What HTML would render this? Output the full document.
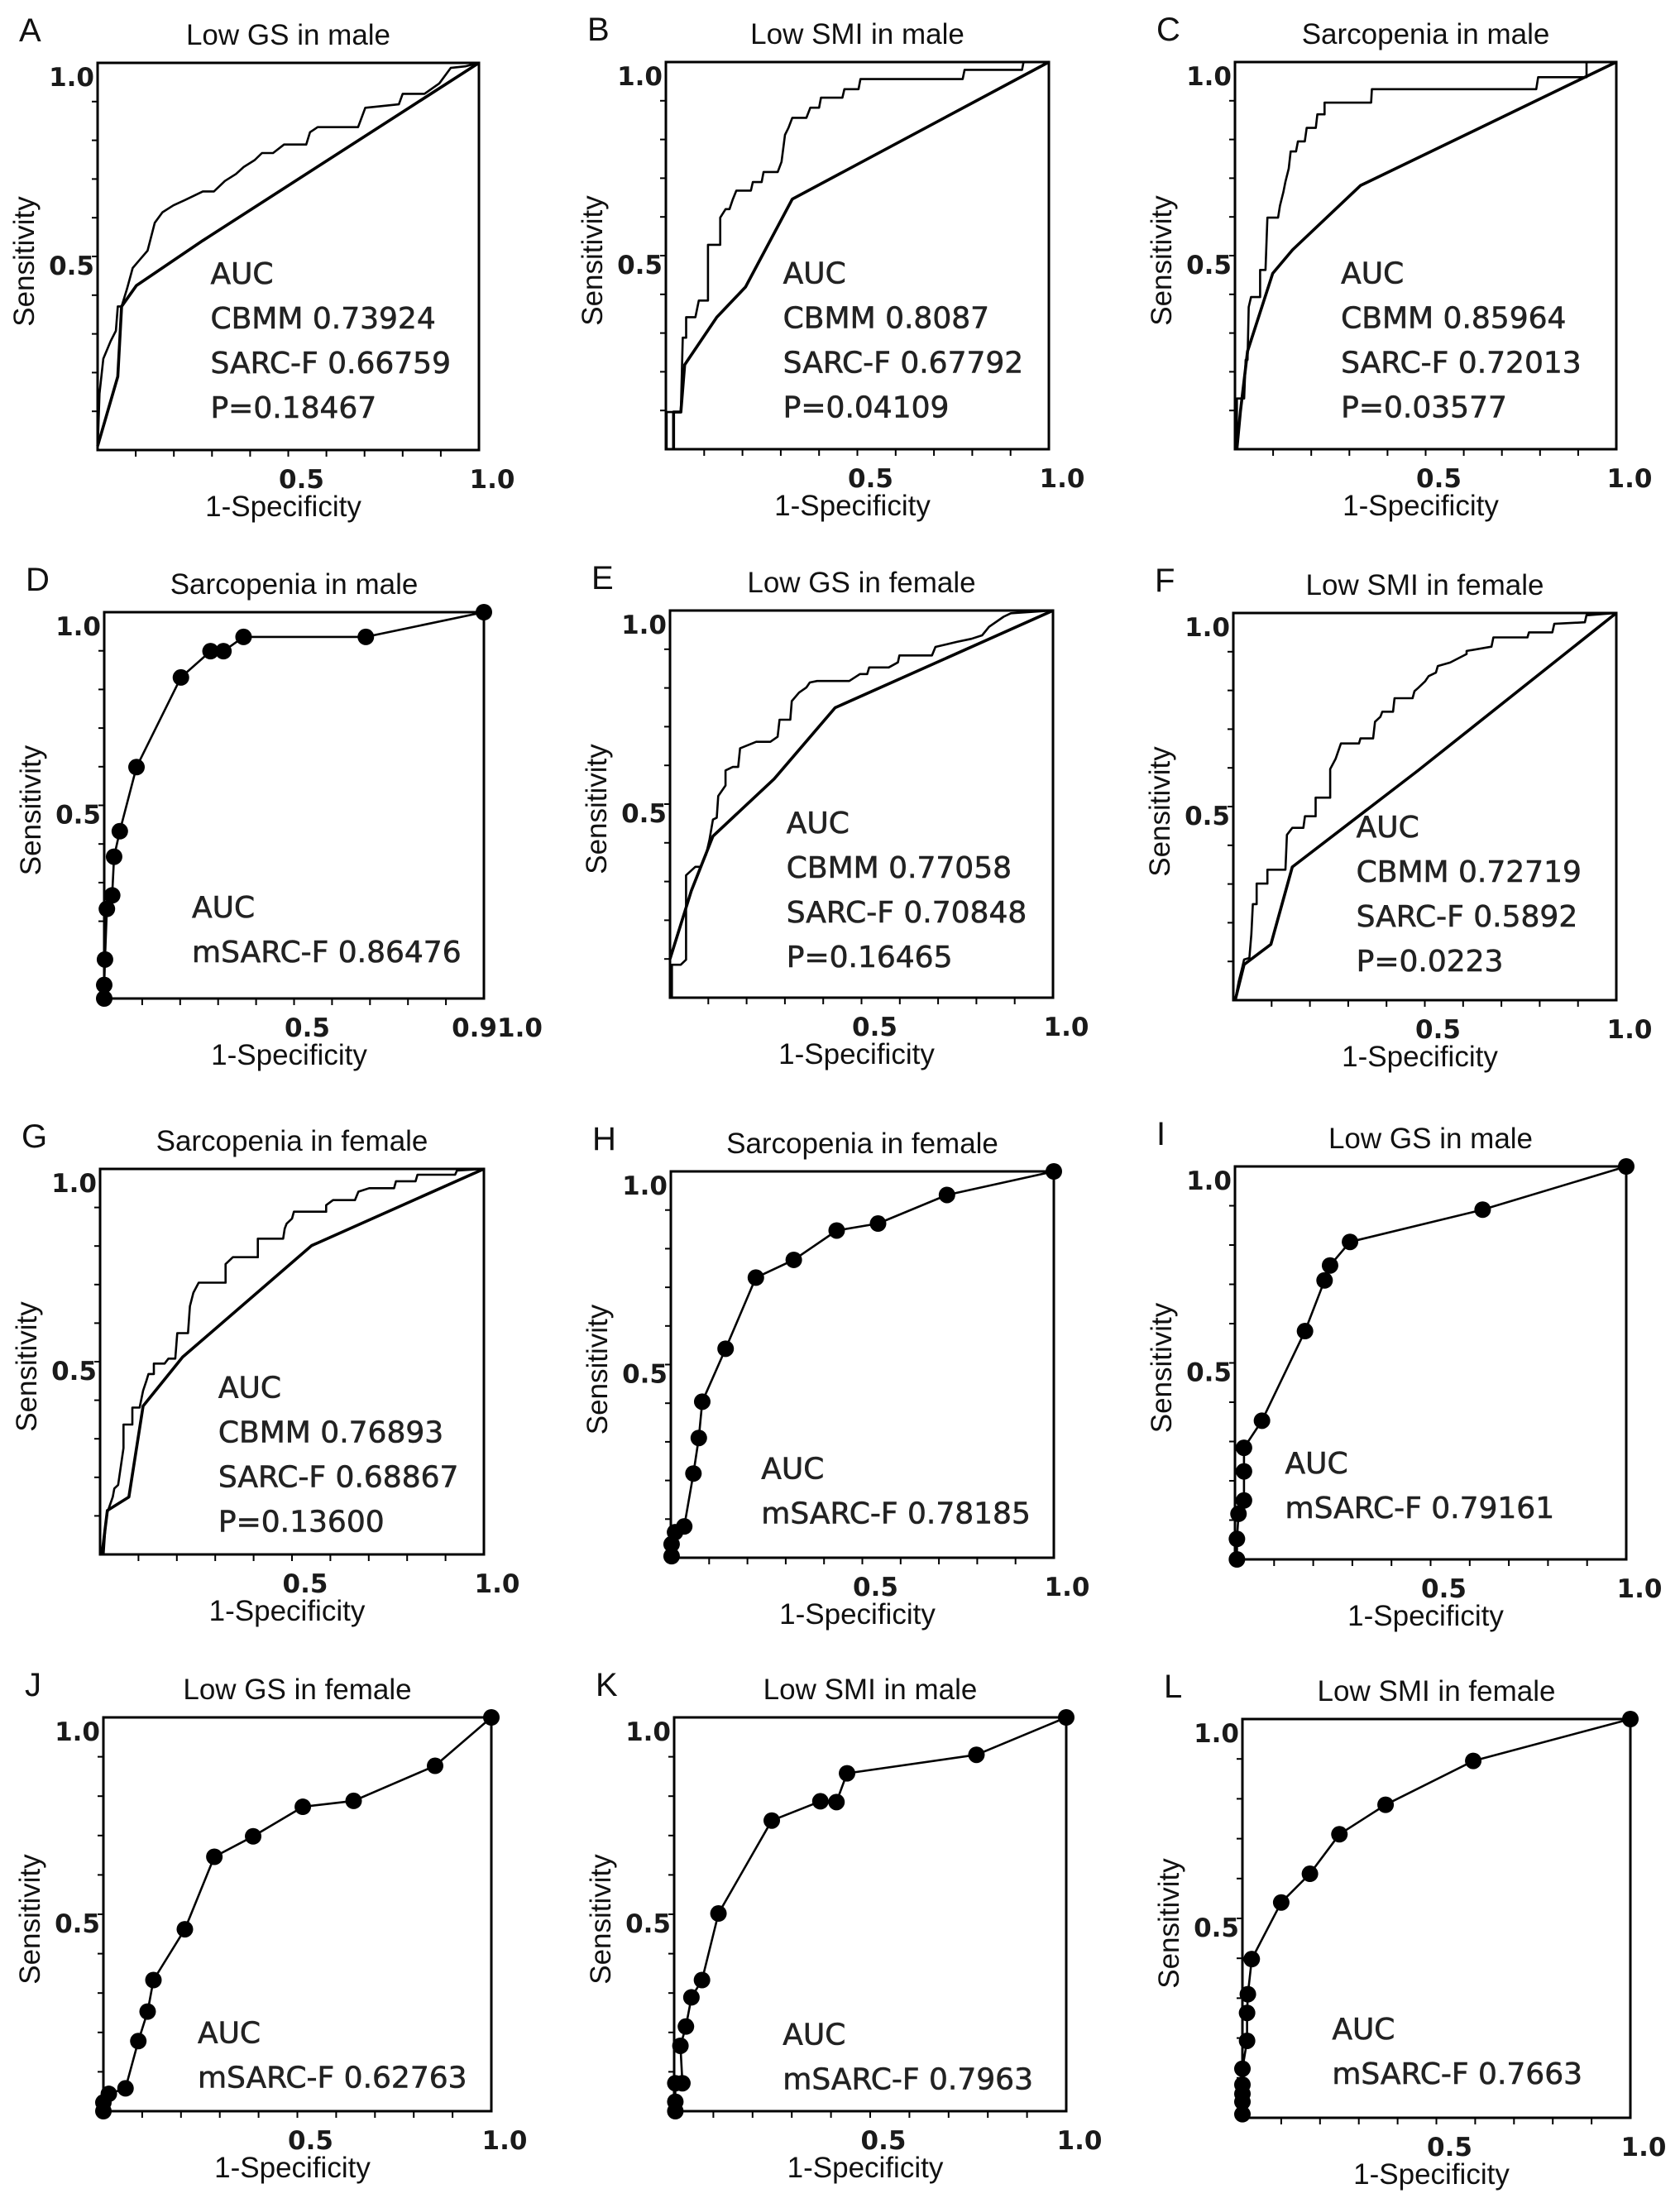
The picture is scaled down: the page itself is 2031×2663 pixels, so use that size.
<!DOCTYPE html>
<html><head><meta charset="utf-8"><style>
html,body{margin:0;padding:0;background:#fff}
svg{display:block}
text{font-family:"Liberation Sans",sans-serif}
.tick{font-family:"DejaVu Sans",sans-serif;font-size:31px;font-weight:bold;fill:#1a1a1a}
.auc{font-family:"DejaVu Sans","Liberation Sans",sans-serif;font-size:36px;fill:#222;stroke:#222;stroke-width:0.6}
</style></head><body>
<svg id="fig" width="2031" height="2663" viewBox="0 0 2031 2663" xmlns="http://www.w3.org/2000/svg"></svg>
<script>
// ---- data: ROC curves as [1-specificity] and [sensitivity] arrays ----
const aCbmmX=[0,0.005,0.015,0.034,0.048,0.053,0.063,0.077,0.092,0.111,0.131,0.150,0.170,0.199,0.228,0.276,0.305,0.334,0.363,0.383,0.412,0.431,0.460,0.489,0.547,0.557,0.577,0.683,0.702,0.790,0.800,0.857,0.896,0.926,0.964,1];
const aCbmmY=[0,0.146,0.236,0.281,0.308,0.371,0.371,0.416,0.470,0.492,0.515,0.587,0.614,0.632,0.645,0.668,0.668,0.695,0.713,0.731,0.749,0.767,0.767,0.789,0.789,0.821,0.834,0.834,0.884,0.893,0.920,0.920,0.947,0.987,0.991,1];
const aSarcX=[0,0.053,0.063,0.102,0.276,1];
const aSarcY=[0.01,0.19,0.371,0.425,0.541,1];
const bCbmmX=[0.002,0.002,0.039,0.044,0.053,0.053,0.077,0.086,0.11,0.11,0.142,0.142,0.156,0.166,0.175,0.184,0.222,0.227,0.25,0.255,0.292,0.302,0.311,0.32,0.33,0.367,0.377,0.4,0.405,0.461,0.466,0.503,0.508,0.775,0.78,0.93,0.934,1];
const bCbmmY=[0,0.096,0.096,0.288,0.288,0.341,0.341,0.384,0.384,0.528,0.528,0.598,0.620,0.620,0.646,0.668,0.668,0.690,0.690,0.716,0.716,0.742,0.812,0.830,0.856,0.856,0.882,0.882,0.908,0.908,0.930,0.930,0.956,0.956,0.980,0.980,1,1];
const bSarcX=[0.02,0.02,0.039,0.049,0.133,0.208,0.33,1];
const bSarcY=[0,0.096,0.096,0.218,0.341,0.419,0.646,1];
const cCbmmX=[0.005,0.005,0.024,0.028,0.033,0.036,0.042,0.066,0.066,0.08,0.085,0.113,0.118,0.127,0.132,0.141,0.146,0.16,0.165,0.183,0.188,0.212,0.216,0.235,0.235,0.357,0.359,0.79,0.795,0.922,0.922,1];
const cCbmmY=[0,0.131,0.131,0.231,0.231,0.367,0.393,0.393,0.463,0.463,0.598,0.598,0.629,0.664,0.69,0.725,0.769,0.769,0.795,0.795,0.830,0.830,0.865,0.865,0.895,0.895,0.930,0.930,0.961,0.961,1,1];
const cSarcX=[0.005,0.014,0.033,0.099,0.151,0.329,1];
const cSarcY=[0,0.096,0.253,0.454,0.515,0.681,1];
const dX=[0,0,0.002,0.007,0.021,0.026,0.041,0.085,0.202,0.28,0.314,0.367,0.689,1];
const dY=[0,0.035,0.101,0.232,0.267,0.367,0.433,0.599,0.831,0.899,0.899,0.936,0.936,1];
const eCbmmX=[0.005,0.005,0.028,0.042,0.042,0.066,0.08,0.094,0.103,0.112,0.122,0.126,0.145,0.145,0.164,0.178,0.183,0.225,0.262,0.281,0.286,0.314,0.318,0.337,0.356,0.365,0.384,0.468,0.496,0.515,0.52,0.571,0.595,0.599,0.684,0.693,0.749,0.787,0.815,0.833,0.871,0.89,1];
const eCbmmY=[0,0.085,0.085,0.098,0.316,0.338,0.338,0.369,0.408,0.46,0.465,0.521,0.548,0.587,0.596,0.596,0.644,0.661,0.661,0.674,0.718,0.718,0.766,0.788,0.801,0.814,0.818,0.818,0.836,0.836,0.853,0.853,0.866,0.884,0.884,0.906,0.919,0.927,0.936,0.958,0.984,0.993,1];
const eSarcX=[0,0.056,0.112,0.272,0.431,1];
const eSarcY=[0.1,0.277,0.417,0.565,0.749,1];
const fCbmmX=[0.005,0.014,0.023,0.028,0.042,0.047,0.051,0.061,0.061,0.089,0.089,0.136,0.14,0.154,0.183,0.187,0.215,0.215,0.253,0.253,0.267,0.281,0.328,0.332,0.365,0.37,0.384,0.389,0.417,0.421,0.468,0.473,0.482,0.501,0.51,0.529,0.534,0.566,0.609,0.609,0.674,0.679,0.768,0.772,0.833,0.838,0.918,0.922,1];
const fCbmmY=[0,0.048,0.083,0.105,0.109,0.17,0.248,0.248,0.301,0.301,0.337,0.337,0.427,0.445,0.445,0.475,0.475,0.523,0.523,0.597,0.623,0.663,0.663,0.676,0.676,0.719,0.732,0.745,0.745,0.78,0.78,0.798,0.806,0.824,0.837,0.846,0.863,0.872,0.894,0.902,0.913,0.937,0.937,0.95,0.95,0.972,0.976,0.994,1];
const fSarcX=[0.005,0.028,0.098,0.154,0.482,1];
const fSarcY=[0,0.092,0.144,0.344,0.593,1];
const gCbmmX=[0.009,0.014,0.019,0.033,0.037,0.047,0.061,0.061,0.084,0.084,0.103,0.112,0.121,0.126,0.14,0.14,0.168,0.178,0.196,0.201,0.229,0.234,0.243,0.257,0.327,0.327,0.346,0.411,0.411,0.477,0.481,0.486,0.5,0.505,0.589,0.589,0.607,0.664,0.673,0.701,0.766,0.771,0.822,0.827,0.925,0.93,1];
const gCbmmY=[0,0.074,0.109,0.149,0.171,0.18,0.276,0.337,0.337,0.381,0.381,0.425,0.451,0.468,0.468,0.495,0.495,0.508,0.508,0.574,0.574,0.644,0.679,0.705,0.705,0.753,0.771,0.771,0.819,0.819,0.845,0.858,0.871,0.889,0.889,0.906,0.919,0.919,0.941,0.95,0.95,0.968,0.968,0.985,0.985,0.996,1];
const gSarcX=[0.005,0.019,0.075,0.112,0.215,0.551,1];
const gSarcY=[0,0.114,0.149,0.385,0.512,0.801,1];
const hX=[0.002,0.002,0.011,0.035,0.059,0.073,0.082,0.143,0.222,0.321,0.433,0.541,0.721,1];
const hY=[0.004,0.035,0.066,0.081,0.218,0.31,0.404,0.541,0.725,0.771,0.847,0.865,0.939,1];
const iX=[0.005,0.005,0.009,0.023,0.023,0.023,0.069,0.179,0.229,0.243,0.294,0.633,1];
const iY=[0,0.052,0.116,0.15,0.224,0.284,0.353,0.581,0.71,0.748,0.808,0.89,1];
const jX=[0,0,0.014,0.057,0.09,0.114,0.129,0.21,0.286,0.386,0.514,0.645,0.855,1];
const jY=[0,0.022,0.044,0.058,0.178,0.253,0.333,0.462,0.646,0.698,0.773,0.788,0.877,1];
const kX=[0.003,0.003,0.003,0.021,0.016,0.03,0.044,0.071,0.113,0.249,0.373,0.414,0.441,0.771,1];
const kY=[0,0.024,0.071,0.071,0.166,0.215,0.289,0.333,0.502,0.738,0.787,0.785,0.858,0.905,1];
const lX=[0,0,0,0,0,0.012,0.012,0.014,0.024,0.1,0.174,0.25,0.369,0.595,1];
const lY=[0.009,0.04,0.06,0.083,0.123,0.193,0.263,0.31,0.398,0.54,0.612,0.711,0.785,0.895,1];
const panelLetters=["A","B","C","D","E","F","G","H","I","J","K","L"];
const panelTitles=["Low GS in male","Low SMI in male","Sarcopenia in male","Sarcopenia in male","Low GS in female","Low SMI in female","Sarcopenia in female","Sarcopenia in female","Low GS in male","Low GS in female","Low SMI in male","Low SMI in female"];
const aucLines=[
 ["AUC","CBMM 0.73924","SARC-F 0.66759","P=0.18467"],
 ["AUC","CBMM 0.8087","SARC-F 0.67792","P=0.04109"],
 ["AUC","CBMM 0.85964","SARC-F 0.72013","P=0.03577"],
 ["AUC","mSARC-F  0.86476"],
 ["AUC","CBMM 0.77058","SARC-F 0.70848","P=0.16465"],
 ["AUC","CBMM 0.72719","SARC-F 0.5892","P=0.0223"],
 ["AUC","CBMM 0.76893","SARC-F 0.68867","P=0.13600"],
 ["AUC","mSARC-F  0.78185"],
 ["AUC","mSARC-F  0.79161"],
 ["AUC","mSARC-F  0.62763"],
 ["AUC","mSARC-F  0.7963"],
 ["AUC","mSARC-F  0.7663"]];
const xEndLabels=["1.0","1.0","1.0","0.91.0","1.0","1.0","1.0","1.0","1.0","1.0","1.0","1.0"];

// ---- layout (not data) ----
const boxes=[[118,76,579,544],[805,75,1268,543],[1493,75,1954,543],
 [126,740,585,1207],[810,738,1273,1206],[1491,741,1954,1209],
 [121,1413,585,1879],[811,1416,1274,1883],[1493,1410,1966,1885],
 [125,2076,594,2552],[815,2076,1289,2552],[1502,2078,1971,2560]];
const aucPos=[[0.296,0.571],[0.306,0.572],[0.278,0.572],[0.231,0.79],[0.304,0.575],[0.321,0.579],[0.308,0.593],[0.236,0.795],[0.128,0.781],[0.243,0.827],[0.277,0.831],[0.231,0.803]];
const series=[
 [{x:aCbmmX,y:aCbmmY,w:2.6},{x:aSarcX,y:aSarcY,w:3.6}],
 [{x:bCbmmX,y:bCbmmY,w:2.6},{x:bSarcX,y:bSarcY,w:3.6}],
 [{x:cCbmmX,y:cCbmmY,w:2.6},{x:cSarcX,y:cSarcY,w:3.6}],
 [{x:dX,y:dY,w:2.6,dots:true}],
 [{x:eCbmmX,y:eCbmmY,w:2.6},{x:eSarcX,y:eSarcY,w:3.6}],
 [{x:fCbmmX,y:fCbmmY,w:2.6},{x:fSarcX,y:fSarcY,w:3.6}],
 [{x:gCbmmX,y:gCbmmY,w:2.6},{x:gSarcX,y:gSarcY,w:3.6}],
 [{x:hX,y:hY,w:2.6,dots:true}],
 [{x:iX,y:iY,w:2.6,dots:true}],
 [{x:jX,y:jY,w:2.6,dots:true}],
 [{x:kX,y:kY,w:2.6,dots:true}],
 [{x:lX,y:lY,w:2.6,dots:true}]];

const NS="http://www.w3.org/2000/svg";
const svg=document.getElementById('fig');
function mk(tag,attrs,parent){const e=document.createElementNS(NS,tag);for(const k in attrs)e.setAttribute(k,attrs[k]);parent.appendChild(e);return e;}

panelLetters.forEach((L,i)=>{
 const [x0,y0,x1,y1]=boxes[i];const W=x1-x0,H=y1-y0;
 const sx=v=>x0+v*W, sy=v=>y1-v*H;
 const g=mk('g',{},svg);
 
 
 const lt=mk('text',{x:x0-95,y:y0-26,'font-size':40,fill:'#111'},g);lt.textContent=L;
 
 
 const tt=mk('text',{x:(x0+x1)/2,y:y0-22,'font-size':35,'text-anchor':'middle',fill:'#111'},g);tt.textContent=panelTitles[i];
 
 
 const fr=mk('rect',{x:x0,y:y0,width:W,height:H,fill:'none',stroke:'#000','stroke-width':3},g);
 
 
 for(let t=1;t<10;t++){
  const tx=mk('line',{x1:sx(t/10),x2:sx(t/10),y1:y1,y2:y1+8,stroke:'#000','stroke-width':2},g);
  
  
  const ty=mk('line',{x1:x0-7,x2:x0,y1:sy(t/10),y2:sy(t/10),stroke:'#000','stroke-width':2},g);
  
  
 }
 const y10=mk('text',{x:x0-4,y:sy(1)+28,'text-anchor':'end',class:'tick'},g);y10.textContent='1.0';
 
 
 const y05=mk('text',{x:x0-4,y:sy(0.5)+22,'text-anchor':'end',class:'tick'},g);y05.textContent='0.5';
 
 
 const x05=mk('text',{x:sx(0.5)+16,y:y1+46,'text-anchor':'middle',class:'tick'},g);x05.textContent='0.5';
 
 
 const x10=mk('text',{x:sx(1)+16,y:y1+46,'text-anchor':'middle',class:'tick'},g);x10.textContent=xEndLabels[i];
 
 
 const xt=mk('text',{x:(x0+x1)/2-6,y:y1+80,'text-anchor':'middle','font-size':35,fill:'#111'},g);xt.textContent='1-Specificity';
 
 
 const cy=(y0+y1)/2+6,cx=x0-77;
 const yt=mk('text',{x:cx,y:cy,'text-anchor':'middle','font-size':35,fill:'#111',transform:`rotate(-90 ${cx} ${cy})`},g);yt.textContent='Sensitivity';
 
 
 series[i].forEach((s,si)=>{
  const pts=s.x.map((v,k)=>sx(v).toFixed(1)+','+sy(s.y[k]).toFixed(1)).join(' ');
  const pl=mk('polyline',{points:pts,fill:'none',stroke:'#000','stroke-width':s.w,'stroke-linejoin':'round'},g);
  
  
  if(s.dots){s.x.forEach((v,k)=>{
   const c=mk('circle',{cx:sx(v),cy:sy(s.y[k]),r:10,fill:'#000'},g);
   
   
  });}
 });
 const [ax,ay]=aucPos[i];
 aucLines[i].forEach((ln,k)=>{
  const t=mk('text',{x:sx(0)+ax*W,y:y0+ay*H+k*54,class:'auc'},g);t.textContent=ln;
  
  
 });
});
</script>
</body></html>
